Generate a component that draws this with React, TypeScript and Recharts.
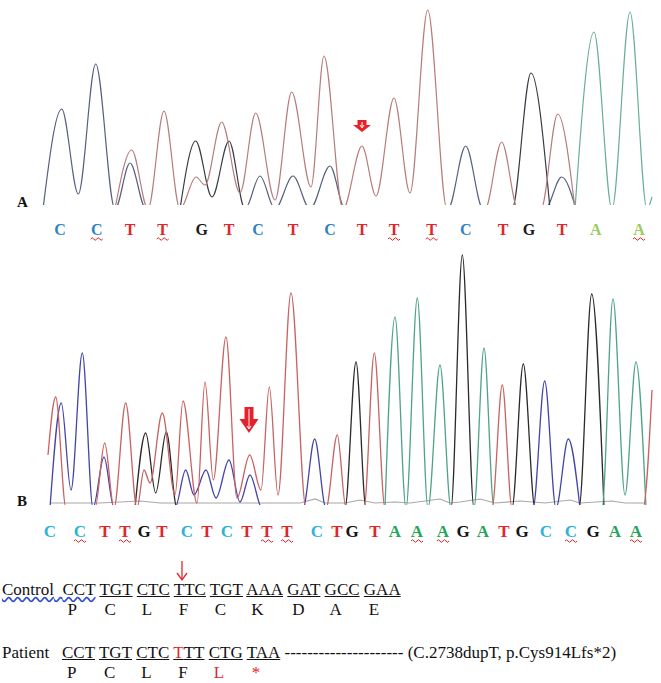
import React from 'react';
import { ComposedChart, Line, XAxis, YAxis, ReferenceDot } from 'recharts';

// ---------- Panel A (control) traces: [scan position, signal] ----------
const aTraceC = [[43,-4],[61.7,96],[78.3,11],[95.7,141],[115,-4],[130,42],[146,-4],[245,-4],[260,29],[275,-4],[293,29],[310,-4],[330,39],[345,-4],[448,-4],[465.7,59],[483,-4],[545,-4],[561.7,28],[576,-4]];
const aTraceG = [[180,-4],[195.7,64],[212,8],[229,64],[245,-4],[512,-4],[531,132],[550,-4]];
const aTraceT = [[115,-4],[131.7,55],[148,-4],[164,94],[180,-4],[196,28],[205,20],[221.7,83],[240,12],[255.7,92],[275,5],[291.7,113],[311,18],[324,149],[343,-4],[362,59],[376,9],[394,107],[410,12],[427.7,195],[447,-4],[485,-4],[501.7,63],[518,-4],[541,-4],[557.7,91],[575,-4]];
const aTraceA = [[575,-4],[594,173],[612,-4],[630,193],[647,-4],[652,8]];

const aBasePos = [60,96.7,130,162.7,201.7,229,258,293,330,362,394,431.7,465.7,503,529,562,595.7,639];
const aBases = ['C','C','T','T','G','T','C','T','C','T','T','T','C','T','G','T','A','A'];
const aMarked = [1,3,10,11,17];
const aArrowPos = 362;
const aArrowLevel = 79;

// ---------- Panel B (patient) traces ----------
const bTraceC = [[50,-3],[61.3,102],[71,15],[82.3,152],[93,-3],[104,48],[114,-3],[175,-3],[185.7,35],[194,10],[206,35],[216,7],[229,45],[240,3],[250,30],[262,-3],[303,-3],[314.7,66],[326,-3],[533,-3],[544.7,124],[556,-3],[568.3,66],[580,-3]];
const bTraceT = [[48,50],[55.7,108],[66,-3],[95,-3],[104.7,62],[114,-3],[125.7,102],[137,-3],[144,35],[150,22],[162.3,92],[175,10],[183,104],[197,2],[205,123],[213.3,25],[226,168],[237,7],[249.7,50],[261,15],[269.3,118],[278,10],[291,212],[306,-3],[326,-3],[337.3,70],[346,-3],[364,-3],[374.3,152],[385,-3],[492,-3],[502.3,120],[512,-3],[643,-3],[652,115]];
const bTraceG = [[135,-3],[145.7,72],[155.7,12],[166.3,73],[177,-3],[345,-3],[356,143],[366,-3],[451,-3],[462.3,250],[474,-3],[512,-3],[523.3,141],[535,-3],[579,-3],[591.7,211],[604,-3]];
const bTraceA = [[385,-3],[395,188],[406,-3],[417.3,207],[428,-3],[440,140],[451,-3],[474,-3],[484,157],[494,-3],[602,-3],[613,206],[625,10],[636,143],[646,-3]];
const bNoise = [[50,2],[100,2],[140,4],[160,2],[300,2],[315,6],[325,2],[345,2],[360,5],[375,2],[395,3],[410,2],[440,6],[450,2],[460,3],[480,6],[495,2],[520,4],[545,2],[570,5],[580,2],[612,4],[625,2],[645,2]];

const bBasePos = [50,80,105,125,144,162,187,207,227,247,267,287,317,337,352,375,395,417,443,463,483,504,522,546,571,593,615,636];
const bBases = ['C','C','T','T','G','T','C','T','C','T','T','T','C','T','G','T','A','A','A','G','A','T','G','C','C','G','A','A'];
const bMarked = [1,3,10,11,17,18,24,27];
const bArrowPos = 249;
const bArrowLevel = 85;

// ---------- Codon tables ----------
const controlCodons = ['CCT','TGT','CTC','TTC','TGT','AAA','GAT','GCC','GAA'];
const controlAmino = ['P','C','L','F','C','K','D','A','E'];
const patientCodons = ['CCT','TGT','CTC','TTT','CTG','TAA'];
const patientAmino = ['P','C','L','F','L','*'];
const patientRedAmino = [4,5];
const mutationNote = '(C.2738dupT, p.Cys914Lfs*2)';

const SERIF = '"Liberation Serif", "Times New Roman", serif';
const pts = (arr: number[][]) => arr.map(([x, v]) => ({ x, v }));

const aColors: Record<string,string> = { C: '#2f82c6', T: '#e3242b', G: '#1a1a1a', A: '#9acb5c' };
const bColors: Record<string,string> = { C: '#2bb4d6', T: '#e3242b', G: '#141414', A: '#25a45a' };

function makeTick(pos: number[], bases: string[], marked: number[], colors: Record<string,string>, fontSize: number, dy: number) {
  return (props: any) => {
    const { x, y, payload } = props;
    const i = pos.indexOf(payload.value);
    if (i < 0) return <g />;
    const b = bases[i];
    const by = y + dy;
    return (
      <g>
        <text x={x} y={by} textAnchor="middle" fontFamily={SERIF} fontWeight="bold" fontSize={fontSize} fill={colors[b]}>{b}</text>
        {marked.includes(i) && (
          <path d={`M${x - 6},${by + 4} q1.5,-2.5 3,0 t3,0 t3,0 t3,0`} stroke="#e02020" fill="none" strokeWidth={1} />
        )}
      </g>
    );
  };
}

function makeArrow(w: number, h: number, shaftW: number, headH: number) {
  return (props: any) => {
    const { cx, cy } = props;
    const top = cy - h / 2;
    const neck = top + h - headH;
    const p = [
      [cx - shaftW / 2, top], [cx + shaftW / 2, top], [cx + shaftW / 2, neck], [cx + w / 2, neck],
      [cx, top + h], [cx - w / 2, neck], [cx - shaftW / 2, neck],
    ].map((q) => q.join(',')).join(' ');
    return (
      <g>
        <polygon points={p} fill="#e8202a" />
        <line x1={cx} y1={top + 2} x2={cx} y2={top + h - 5} stroke="#fff" strokeWidth={1} />
        <path d={`M${cx - 2},${top + h - 7} L${cx},${top + h - 4} L${cx + 2},${top + h - 7}`} stroke="#fff" fill="none" strokeWidth={1} />
      </g>
    );
  };
}

const lineProps = { type: 'monotone' as const, dataKey: 'v', dot: false, activeDot: false, isAnimationActive: false };

function Panel({ top, plotH, maxV, traces, basePos, bases, marked, colors, fontSize, dy, arrowPos, arrowLevel, arrow, label, labelY, noise }: any) {
  return (
    <div style={{ position: 'absolute', left: 0, top }}>
      <ComposedChart width={661} height={plotH + 45} margin={{ top: 0, right: 0, bottom: 0, left: 0 }}>
        <XAxis dataKey="x" type="number" domain={[0, 661]} ticks={basePos} interval={0} axisLine={false} tickLine={false}
          tickSize={0} tickMargin={0} height={45} tick={makeTick(basePos, bases, marked, colors, fontSize, dy)} />
        <YAxis hide type="number" domain={[0, maxV]} allowDataOverflow />
        {noise && <Line {...lineProps} data={pts(noise)} stroke="#a8a8a8" strokeWidth={1.2} type="linear" />}
        {traces.map((t: any, i: number) => (
          <Line key={i} {...lineProps} data={pts(t.data)} stroke={t.color} strokeWidth={t.w || 1.3} />
        ))}
        <ReferenceDot x={arrowPos} y={arrowLevel} r={1} shape={arrow} ifOverflow="visible" />
      </ComposedChart>
      <div style={{ position: 'absolute', left: 17, top: labelY - 9, fontFamily: SERIF, fontWeight: 'bold', fontSize: 15, lineHeight: '18px', color: '#111' }}>{label}</div>
    </div>
  );
}

function CodonRow({ top, label, gap, codons, amino, redAmino, renderCodon, tail }: any) {
  const lineStyle: React.CSSProperties = { position: 'absolute', left: 2, whiteSpace: 'pre', fontFamily: SERIF, fontSize: 17, lineHeight: '20px', color: '#111' };
  return (
    <div style={{ ...lineStyle, top }}>
      {label}{gap}
      {codons.map((c: string, i: number) => (
        <React.Fragment key={i}>
          <span style={{ position: 'relative' }}>
            {renderCodon(c, i)}
            <span style={{ position: 'absolute', left: 5, top: 20, color: redAmino.includes(i) ? '#e3242b' : '#111', textDecoration: 'none' }}>{amino[i]}</span>
          </span>
          {i < codons.length - 1 ? ' ' : ''}
        </React.Fragment>
      ))}
      {tail}
    </div>
  );
}

export default function App() {
  const aTraces = [
    { data: aTraceC, color: '#56607e', w: 1.2 },
    { data: aTraceG, color: '#3a3a44', w: 1.2 },
    { data: aTraceT, color: '#b77c7c', w: 1.2 },
    { data: aTraceA, color: '#6aae97', w: 1.2 },
  ];
  const bTraces = [
    { data: bTraceC, color: '#4444aa' },
    { data: bTraceG, color: '#2a2a2a' },
    { data: bTraceA, color: '#4fa486' },
    { data: bTraceT, color: '#c96262' },
  ];
  const wavy = { textDecoration: 'underline wavy #3552d0' };
  return (
    <div style={{ position: 'absolute', left: 0, top: 0, width: 661, height: 683, background: '#fff', overflow: 'hidden' }}>
      <Panel top={0} plotH={205} maxV={205} traces={aTraces} basePos={aBasePos} bases={aBases} marked={aMarked}
        colors={aColors} fontSize={16} dy={30} arrowPos={aArrowPos} arrowLevel={aArrowLevel}
        arrow={makeArrow(18, 12, 9, 7)} label="A" labelY={202} />
      <Panel top={250} plotH={255} maxV={255} traces={bTraces} basePos={bBasePos} bases={bBases} marked={bMarked}
        colors={bColors} fontSize={17} dy={32} arrowPos={bArrowPos} arrowLevel={bArrowLevel}
        arrow={makeArrow(19, 26, 9, 14)} label="B" labelY={251} noise={bNoise} />

      <svg style={{ position: 'absolute', left: 0, top: 0 }} width={661} height={683}>
        <line x1={182} y1={561} x2={182} y2={579} stroke="#e3242b" strokeWidth={1.3} />
        <path d="M177,573 L182,580 L187,573" stroke="#e3242b" fill="none" strokeWidth={1.3} />
      </svg>

      <CodonRow top={580} label={<span style={wavy}>Control</span>}
        gap={<span style={wavy}>{'  '}</span>}
        codons={controlCodons} amino={controlAmino} redAmino={[]}
        renderCodon={(c: string, i: number) => (
          <span style={i === 0 ? wavy : { textDecoration: 'underline' }}>{c}</span>
        )} />
      <CodonRow top={643} label="Patient" gap="   "
        codons={patientCodons} amino={patientAmino} redAmino={patientRedAmino}
        renderCodon={(c: string, i: number) => (
          <span style={{ textDecoration: 'underline', textDecorationColor: '#111' }}>
            {i === 3 ? <><span style={{ color: '#e3242b' }}>{c[0]}</span>{c.slice(1)}</> : c}
          </span>
        )}
        tail={<>{' '}{'-'.repeat(21)}{' '}{mutationNote}</>} />
    </div>
  );
}
